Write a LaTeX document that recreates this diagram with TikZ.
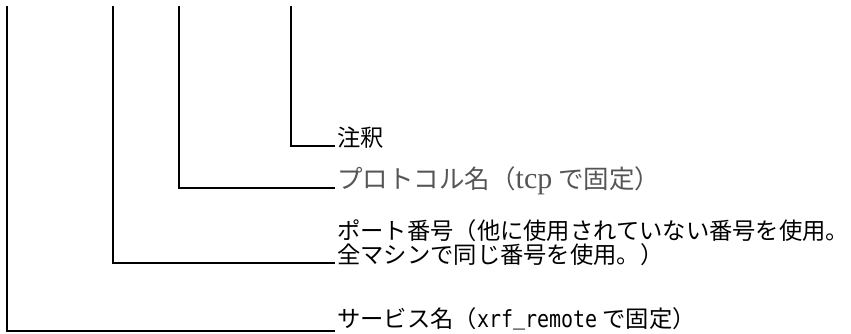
\documentclass[tikz,border=0pt]{standalone}
\usepackage{fontspec}
\usepackage{tikz}
\newfontfamily\jpfont{Noto Sans CJK JP}
\newfontfamily\xrfmono[FakeStretch=0.85]{DejaVu Sans Mono}
\newfontfamily\tcpserif{Liberation Serif}
\definecolor{protogray}{HTML}{555555}

\begin{document}
\begin{tikzpicture}[x=1pt, y=-1pt,
	leader/.style={line width=2pt},
	lbl/.style={anchor=base west, inner xsep=2pt, inner ysep=0pt, font=\jpfont\fontsize{23.3}{24}\selectfont}]
			\useasboundingbox (0,0) rectangle (851,333);
			\coordinate (topsvc) at (7,6);
			\coordinate (topport) at (113,6);
			\coordinate (topproto) at (179,6);
			\coordinate (topnote) at (291,6);
			\node[lbl] (note) at (335,146) {注釈};
			\node[lbl, text=protogray, font=\jpfont\fontsize{25.5}{24}\selectfont] (proto) at (335,188) {プロトコル名（{\tcpserif\fontsize{30}{30}\selectfont tcp} で固定）};
			\node[lbl] (portA) at (335,239) {ポート番号（他に使用されていない番号を使用。};
			\node[lbl] (portB) at (335,263) {全マシンで同じ番号を使用。）};
			\node[lbl] (svc) at (335,327) {サービス名（{\xrfmono\fontsize{23.5}{24}\selectfont xrf\raisebox{3pt}{\_}remote} で固定）};
			\draw[leader] (topnote) |- (note.base west);
			\draw[leader] (topproto) |- (proto.base west);
			\draw[leader] (topport) |- (portB.base west);
			\draw[leader] (topsvc) |- ([yshift=-4pt]svc.base west);
			\end{tikzpicture}
\end{document}
